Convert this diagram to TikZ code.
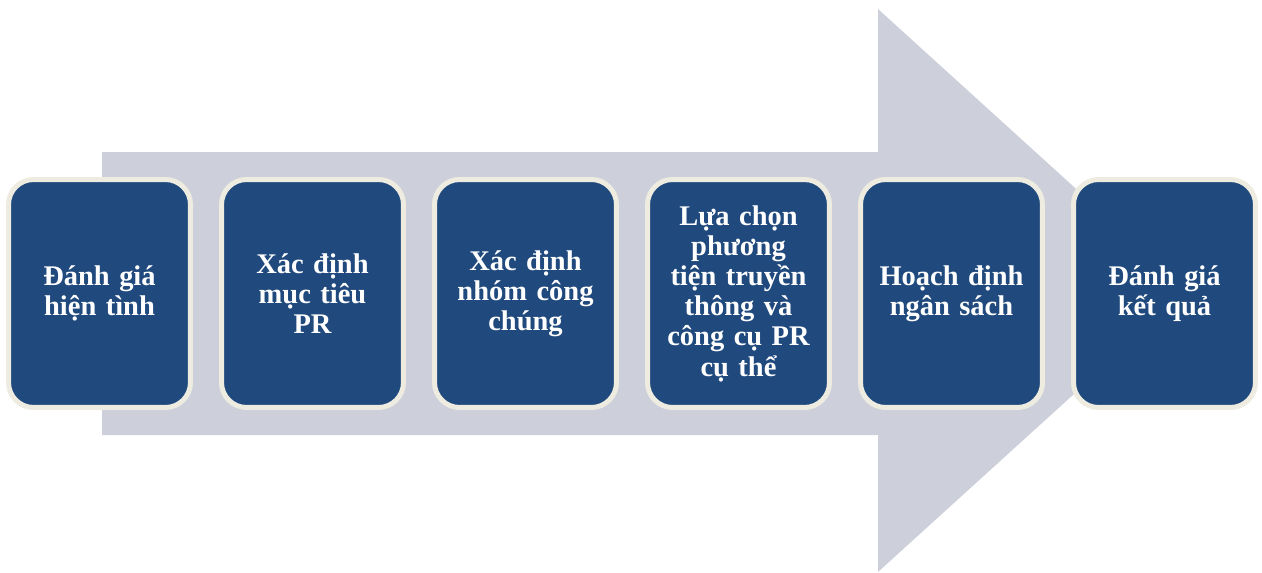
\documentclass[tikz,border=0pt]{standalone}
\usepackage{fontspec}
\setmainfont{Liberation Serif}
\usetikzlibrary{positioning}
\definecolor{arrowgray}{RGB}{205,208,219}
\definecolor{boxblue}{RGB}{32,73,125}
\definecolor{boxrim}{RGB}{238,236,225}
\tikzset{
    x=0.02cm, y=-0.02cm,
    stepbox/.style={
        draw=boxrim, line width=0.1cm, fill=boxblue,
        rounded corners=0.5cm,
        minimum width=3.64cm, minimum height=4.56cm,
        text=white, font=\fontsize{16.2}{17.2}\selectfont\bfseries,
        align=center, text width=3.4cm
    }
}
\def\pitch{213}

\begin{document}
\begin{tikzpicture}
    \useasboundingbox (0, 0) rectangle (1262, 572);
    % big arrow behind
    \fill
        [arrowgray]
        (102, 152) -- (878, 152) -- (878, 9) -- (1188, 290.5)
        -- (878, 572) -- (878, 435) -- (102, 435) -- cycle
    ;
    \draw
        node[stepbox] (danhgia) at (99.5, 293.5) {Đánh giá\\hiện tình}
        node[stepbox] (muctieu) at (99.5+\pitch, 293.5) {Xác định\\mục tiêu\\PR}
        node[stepbox] (congchung) at (99.5+2*\pitch, 293.5) {Xác định\\nhóm công\\chúng}
        node[stepbox] (luachon) at (99.5+3*\pitch, 293.5) {Lựa chọn\\phương\\tiện truyền\\thông và\\công cụ PR\\cụ thể}
        node[stepbox] (ngansach) at (99.5+4*\pitch, 293.5) {Hoạch định\\ngân sách}
        node[stepbox] (ketqua) at (99.5+5*\pitch, 293.5) {Đánh giá\\kết quả}
    ;
\end{tikzpicture}
\end{document}
